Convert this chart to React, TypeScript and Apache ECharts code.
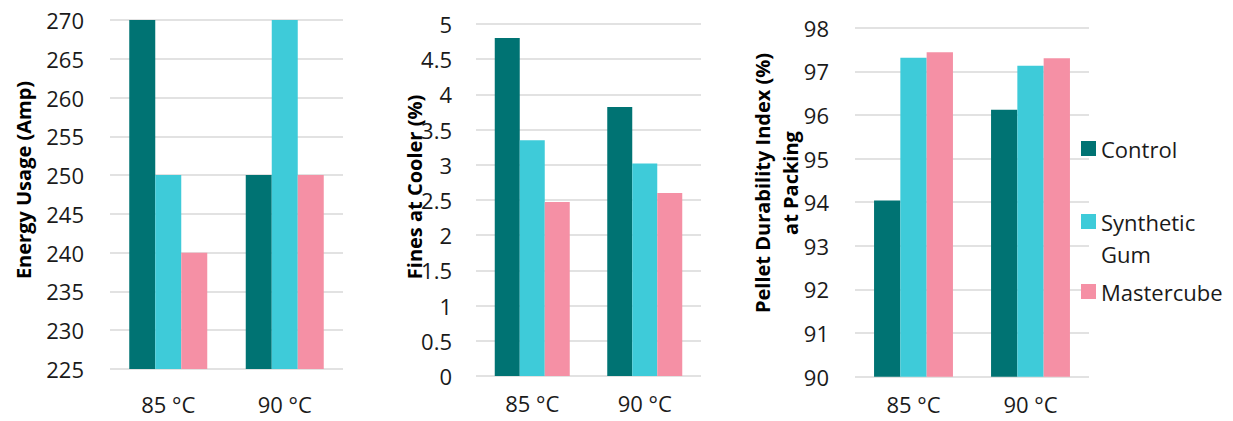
import React, { useEffect, useRef } from 'react';
import * as echarts from 'echarts';

const categories = ['85 °C', '90 °C'];
const seriesNames = ['Control', 'Synthetic Gum', 'Mastercube'];

const energyControl = [270, 250];
const energySynthetic = [250, 270];
const energyMastercube = [240, 250];

const finesControl = [4.8, 3.82];
const finesSynthetic = [3.35, 3.02];
const finesMastercube = [2.47, 2.6];

const pdiControl = [94.04, 96.12];
const pdiSynthetic = [97.31, 97.13];
const pdiMastercube = [97.44, 97.3];

const energyTitle = 'Energy Usage (Amp)';
const finesTitle = 'Fines at Cooler (%)';
const pdiTitle = 'Pellet Durability Index (%)\nat Packing';

const colors = ['#007373', '#3ECBD9', '#F590A5'];
const FONT = '"Open Sans", "Noto Sans", sans-serif';
const TEXT = '#1a1a1a';

export default function App() {
  const ref = useRef<HTMLDivElement>(null);
  useEffect(() => {
    const chart = echarts.init(ref.current!, null, { renderer: 'svg' });

    const grids = [
      { left: 110, top: 20, width: 233, height: 349, outerBoundsMode: 'none' },
      { left: 476, top: 24, width: 225, height: 352, outerBoundsMode: 'none' },
      { left: 855, top: 27.7, width: 234, height: 349, outerBoundsMode: 'none' },
    ];
    const yRanges = [
      { min: 225, max: 270, interval: 5 },
      { min: 0, max: 5, interval: 0.5 },
      { min: 90, max: 98, interval: 1 },
    ];
    const xLabelMargins = [24, 16, 16];
    const barWidths = [26, 25, 26.3];
    const data = [
      [energyControl, energySynthetic, energyMastercube],
      [finesControl, finesSynthetic, finesMastercube],
      [pdiControl, pdiSynthetic, pdiMastercube],
    ];

    const xAxis = grids.map((_, i) => ({
      type: 'category',
      gridIndex: i,
      data: categories,
      axisLine: { show: false },
      axisTick: { show: false },
      axisLabel: { fontSize: 22, fontFamily: FONT, color: TEXT, margin: xLabelMargins[i], lineHeight: 22 },
    }));
    const yAxis = grids.map((_, i) => ({
      type: 'value',
      gridIndex: i,
      min: yRanges[i].min,
      max: yRanges[i].max,
      interval: yRanges[i].interval,
      axisLine: { show: false },
      axisTick: { show: false },
      axisLabel: { fontSize: 22, fontFamily: FONT, color: TEXT, margin: i === 1 ? 24 : 26 },
      splitLine: { lineStyle: { color: '#d9d9d9', width: 1.5 } },
    }));

    const series: any[] = [];
    data.forEach((group, gi) => {
      group.forEach((vals, si) => {
        series.push({
          type: 'bar',
          name: seriesNames[si],
          xAxisIndex: gi,
          yAxisIndex: gi,
          data: vals,
          barWidth: barWidths[gi],
          barGap: '0%',
          itemStyle: { color: colors[si] },
        });
      });
    });

    const legendBase = {
      orient: 'vertical',
      left: 1081,
      padding: 0,
      itemWidth: 15,
      itemHeight: 15,
      icon: 'rect',
      selectedMode: false,
      textStyle: { fontSize: 22, lineHeight: 32, fontFamily: FONT, color: TEXT },
    };

    const titleStyle = {
      fontSize: 20,
      fontWeight: 'bold',
      fontFamily: FONT,
      fill: '#000',
      align: 'center',
      verticalAlign: 'middle',
      lineHeight: 28,
    };

    chart.setOption({
      animation: false,
      grid: grids,
      xAxis,
      yAxis,
      series,
      legend: [
        { ...legendBase, data: ['Control'], top: 132.5 },
        { ...legendBase, data: ['Synthetic Gum'], top: 173.5, formatter: () => '\nSynthetic\nGum' },
        { ...legendBase, data: ['Mastercube'], top: 275.5 },
      ],
      graphic: [
        { type: 'text', x: 23, y: 180, rotation: Math.PI / 2, style: { ...titleStyle, text: energyTitle } },
        { type: 'text', x: 414, y: 187, rotation: Math.PI / 2, style: { ...titleStyle, text: finesTitle } },
        { type: 'text', x: 776, y: 183, rotation: Math.PI / 2, style: { ...titleStyle, text: pdiTitle } },
      ],
    });
    return () => chart.dispose();
  }, []);
  return (
    <div
      ref={ref}
      style={{ position: 'fixed', left: 0, top: 0, width: 1233, height: 421, background: '#fff' }}
    />
  );
}
